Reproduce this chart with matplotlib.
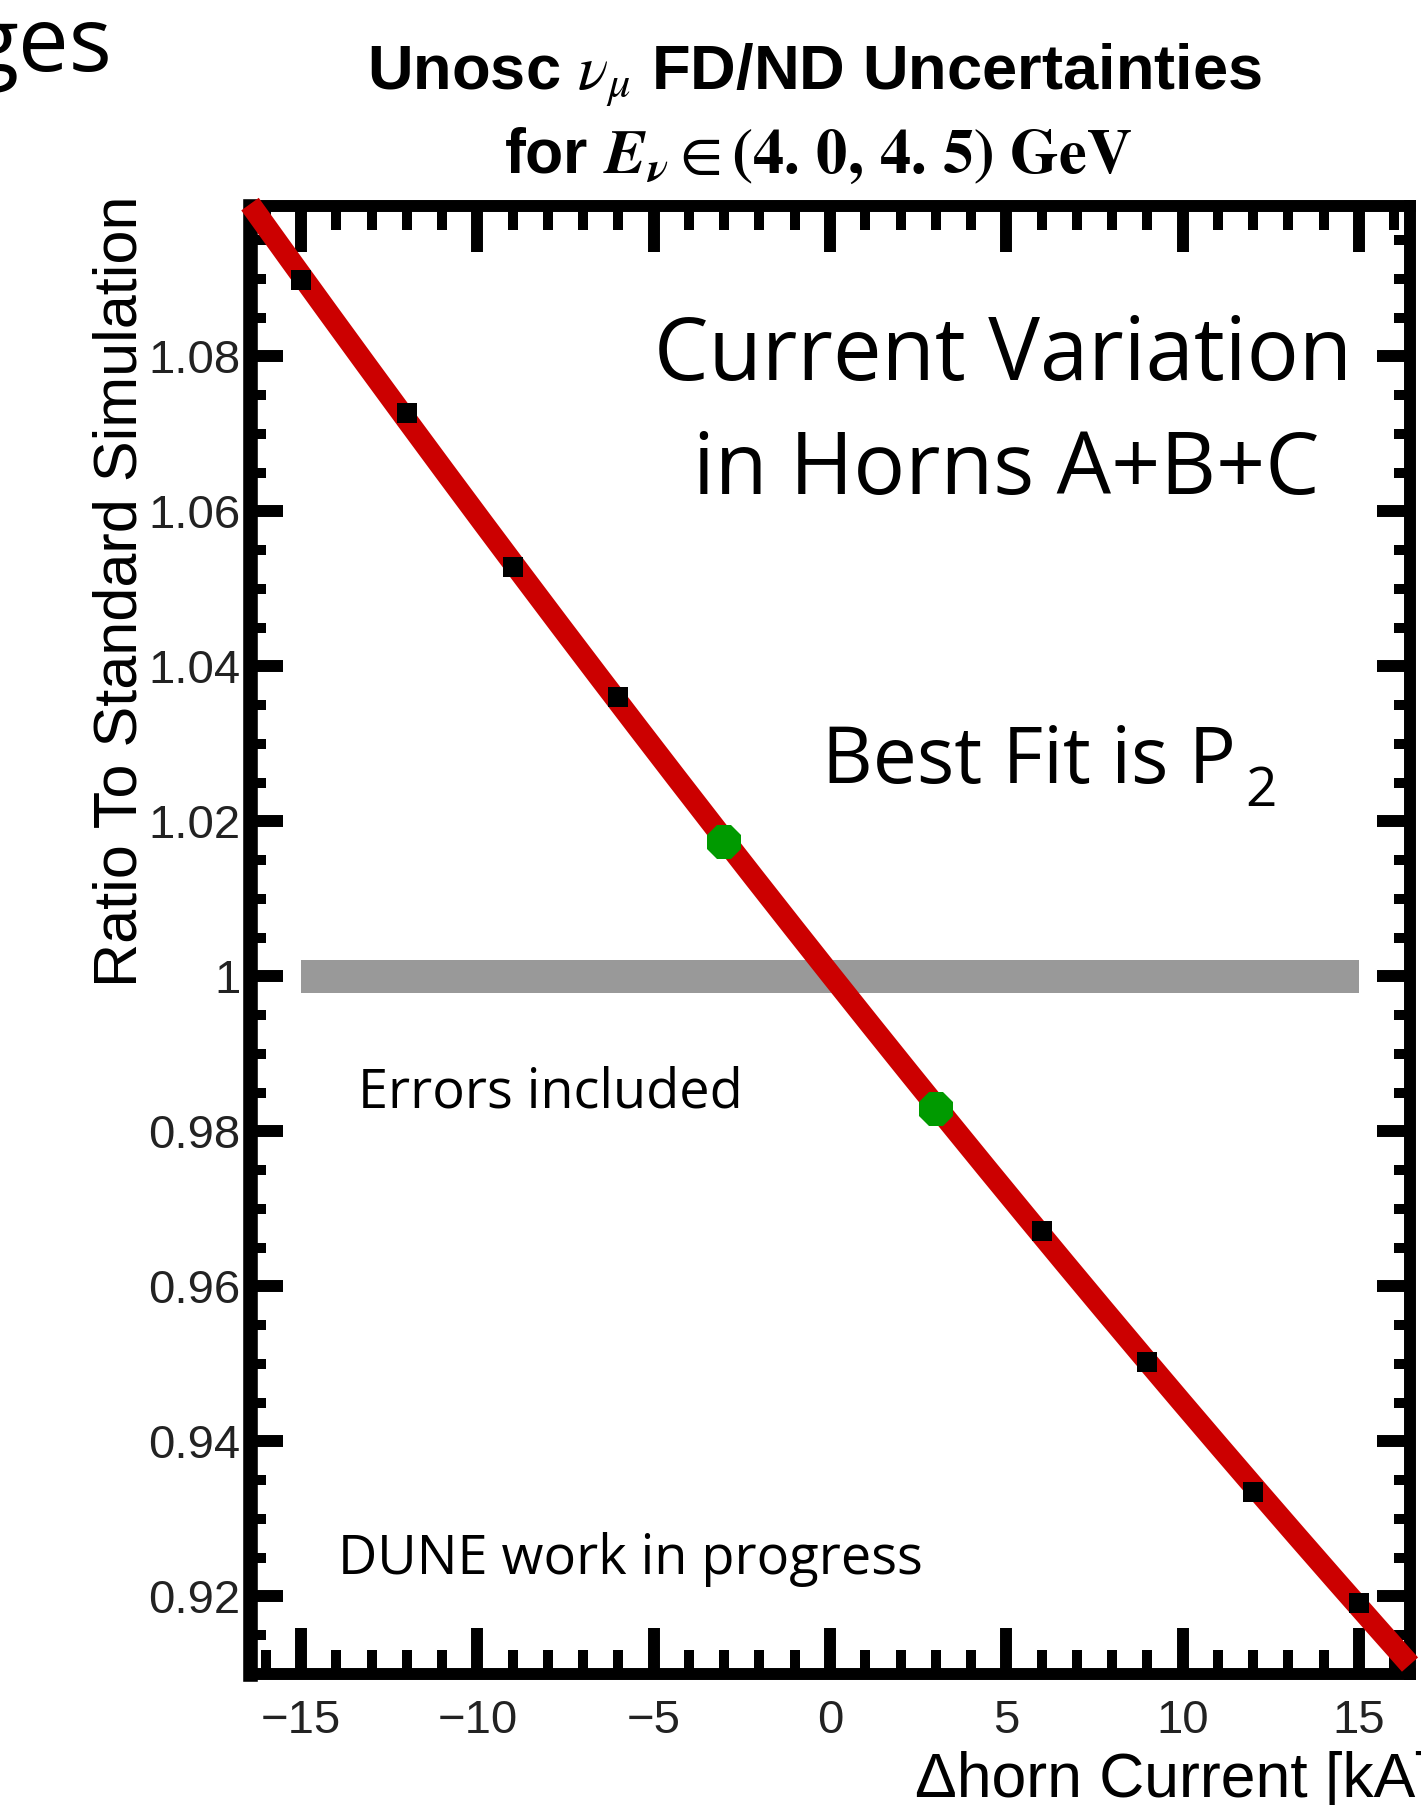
import numpy as np
import matplotlib
matplotlib.use('Agg')
import matplotlib.pyplot as plt
from matplotlib.ticker import MultipleLocator

plt.rcParams['font.family'] = ['Liberation Sans', 'DejaVu Sans']
plt.rcParams['mathtext.fontset'] = 'stix'

# values
current_ka = [-15, -12, -9, -6, -3, 3, 6, 9, 12, 15]
ratio = [1.0899, 1.0727, 1.0528, 1.0361, 1.0173, 0.9829, 0.9672, 0.9503, 0.9335, 0.9192]
green_ka = [-3, 3]          # points drawn in green

band_x = [-15, 15]          # grey "errors" band around 1
band_lo = [0.9979, 0.9979]
band_hi = [1.0021, 1.0021]

xticks = [-15, -10, -5, 0, 5, 10, 15]
xticklabels = ['\u221215', '\u221210', '\u22125', '0', '5', '10', '15']
yticks = [0.92, 0.94, 0.96, 0.98, 1.00, 1.02, 1.04, 1.06, 1.08]
yticklabels = ['0.92', '0.94', '0.96', '0.98', '1', '1.02', '1.04', '1.06', '1.08']
xlim = (-16.45, 16.45)
ylim = (0.9100, 1.0994)

W, H = 1421, 1805


def fpos(x, y):
    # pixel position (from top-left) -> figure fraction
    return x / W, 1 - y / H


fig = plt.figure(figsize=(W / 100, H / 100), dpi=100)
ax = fig.add_axes([250 / W, 131 / H, 1160 / W, 1468 / H])
ax.set_xlim(*xlim)
ax.set_ylim(*ylim)

# grey band
ax.fill_between(band_x, band_lo, band_hi, color='#999999', lw=0, zorder=1)

# quadratic fit (P2) through the points
coef = np.polyfit(current_ka, ratio, 2)
xs = np.linspace(xlim[0], xlim[1], 300)
ax.plot(xs, np.polyval(coef, xs), color='#cc0000', lw=15.5,
        solid_capstyle='butt', clip_on=False, zorder=3)

# points
cx = np.array(current_ka)
cy = np.array(ratio)
is_green = np.isin(cx, green_ka)
ax.plot(cx[~is_green], cy[~is_green], 's', color='black', ms=15, mew=0, zorder=4)
ax.plot(cx[is_green], cy[is_green], '8', color='#009a00', ms=26, mew=0, zorder=4)

# ticks
ax.set_xticks(xticks)
ax.set_xticklabels(xticklabels)
ax.set_yticks(yticks)
ax.set_yticklabels(yticklabels)
ax.xaxis.set_minor_locator(MultipleLocator(1))
ax.yaxis.set_minor_locator(MultipleLocator(0.005))
ax.tick_params(axis='x', which='major', direction='in', length=33, width=8.6,
               top=True, pad=18, labelsize=34, labelcolor='#222222')
ax.tick_params(axis='x', which='minor', direction='in', length=17, width=7.2, top=True)
ax.tick_params(axis='y', which='major', direction='in', length=24, width=8.6,
               right=True, pad=7, labelsize=34, labelcolor='#222222')
ax.tick_params(axis='y', which='minor', direction='in', length=11.5, width=7.2, right=True)
for side, sp in ax.spines.items():
    sp.set_linewidth(10.5 if side == 'left' else 8.6)
    sp.set_color('black')

# title
fig.text(*fpos(815, 90), r'Unosc $\nu_\mu$ FD/ND Uncertainties', ha='center',
         va='baseline', fontsize=45.5, fontweight='bold')
fig.text(*fpos(818, 173), r'for $\mathbfit{E}_{\mathbfit{\nu}} \in \mathbf{(4.\,0,\,4.\,5)\ GeV}$',
         ha='center', va='baseline', fontsize=45, fontweight='bold')

# leftover slide title
fig.text(*fpos(112, 71), 'ges', ha='right', va='baseline', family='Open Sans', fontsize=65)

# axis labels
fig.text(*fpos(137, 591), 'Ratio To Standard Simulation', rotation=90,
         rotation_mode='anchor', ha='center', va='baseline', fontsize=44)
fig.text(*fpos(915, 1797), '\u0394horn Current [kA]', ha='left', va='baseline', fontsize=45)

# annotations
fig.text(*fpos(1003, 380), 'Current Variation', ha='center', va='baseline',
         family='Open Sans', fontsize=62.5)
fig.text(*fpos(1006, 494), 'in Horns A+B+C', ha='center', va='baseline',
         family='Open Sans', fontsize=62)
fig.text(*fpos(822, 783), 'Best Fit is P', ha='left', va='baseline',
         family='Open Sans', fontsize=56.5)
fig.text(*fpos(1245, 806), '2', ha='left', va='baseline',
         family='Open Sans', fontsize=39.5)
fig.text(*fpos(358, 1108), 'Errors included', ha='left', va='baseline',
         family='Open Sans', fontsize=39)
fig.text(*fpos(338, 1574), 'DUNE work in progress', ha='left', va='baseline',
         family='Open Sans', fontsize=39)

fig.savefig('out.png', dpi=100)
